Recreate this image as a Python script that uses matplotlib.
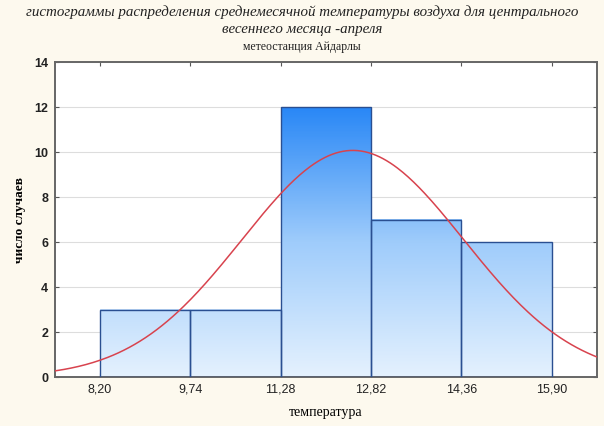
import numpy as np
import matplotlib
matplotlib.use('Agg')
from matplotlib import pyplot as plt
from matplotlib.colors import LinearSegmentedColormap

# данные гистограммы
bin_edges = [8.20, 9.74, 11.28, 12.82, 14.36, 15.90]
counts = [3, 3, 12, 7, 6]
tick_labels = ['8,20', '9,74', '11,28', '12,82', '14,36', '15,90']
# параметры нормальной кривой
mean_t = 12.51
sd_t = 1.89

bg = '#fdf9ee'
fig = plt.figure(figsize=(6.04, 4.26), dpi=100, facecolor=bg)
ax = fig.add_axes([0.091, 0.115, 0.897, 0.739])
ax.set_facecolor('white')

w = bin_edges[1] - bin_edges[0]
xmin, xmax = bin_edges[0] - w / 2, bin_edges[-1] + w / 2
ymax_c = max(counts)

cmap = LinearSegmentedColormap.from_list('grad', ['#e4f1fe', '#9fccfb', '#2a88f6'])
for i, c in enumerate(counts):
    x0, x1 = bin_edges[i], bin_edges[i + 1]
    grad = np.linspace(0, c, 100).reshape(-1, 1)
    ax.imshow(grad, extent=(x0, x1, 0, c), origin='lower', aspect='auto',
              cmap=cmap, vmin=0, vmax=ymax_c, zorder=2)
ax.bar(bin_edges[:-1], counts, width=w, align='edge', facecolor='none',
       edgecolor='#2a4f91', linewidth=1.0, zorder=3)

xs = np.linspace(xmin, xmax, 300)
n = sum(counts)
ys = n * w / (sd_t * np.sqrt(2 * np.pi)) * np.exp(-0.5 * ((xs - mean_t) / sd_t) ** 2)
ax.plot(xs, ys, color='#d8434e', linewidth=1.1, zorder=4)

ax.set_xlim(xmin, xmax)
ax.set_ylim(0, 14)
ax.set_xticks(bin_edges)
ax.set_xticklabels(tick_labels, fontfamily='Liberation Sans', fontsize=9)
ax.set_yticks(range(0, 15, 2))
ax.set_yticklabels([str(v) for v in range(0, 15, 2)],
                   fontfamily='Liberation Sans', fontsize=9, fontweight='bold')
ax.yaxis.grid(True, color='#dddddd', linewidth=0.8, zorder=0)
ax.set_axisbelow(True)
ax.tick_params(direction='in', length=3, color='#555555', top=True, right=True,
               labelcolor='#222222', pad=5)
for s in ax.spines.values():
    s.set_color('#666666')
    s.set_linewidth(1.4)

ax.set_xlabel('температура', fontfamily='Liberation Serif', fontsize=10, labelpad=7)
ax.set_ylabel('число случаев', fontfamily='Liberation Serif', fontsize=9.5,
              fontweight='bold', labelpad=6)

fig.text(0.5, 0.972, 'гистограммы распределения среднемесячной температуры воздуха для центрального',
         ha='center', va='center', fontfamily='Liberation Serif', fontstyle='italic', fontsize=10.8,
         color='#222222')
fig.text(0.5, 0.930, 'весеннего месяца -апреля', ha='center', va='center',
         fontfamily='Liberation Serif', fontstyle='italic', fontsize=10.8, color='#222222')
fig.text(0.5, 0.890, 'метеостанция Айдарлы', ha='center', va='center',
         fontfamily='Liberation Serif', fontsize=8.5, color='#222222')

fig.savefig('out.png', dpi=100, facecolor=bg)
